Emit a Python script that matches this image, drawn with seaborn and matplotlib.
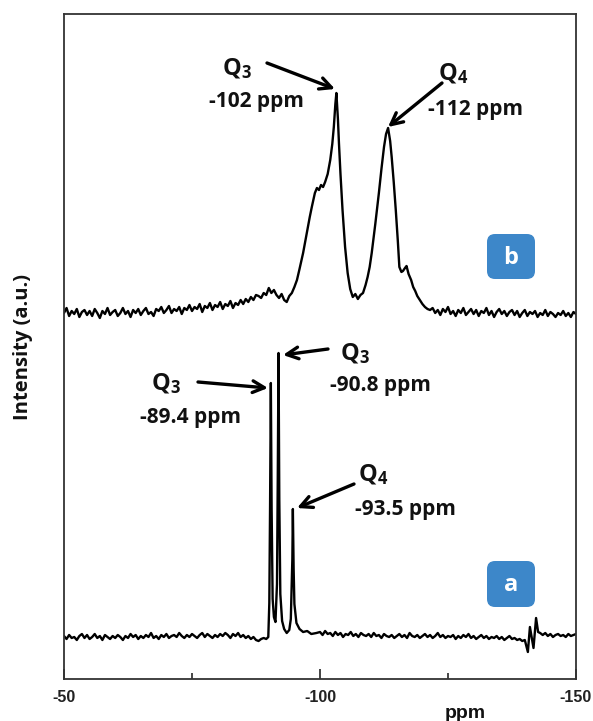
import matplotlib
matplotlib.use("Agg")
import matplotlib.pyplot as plt
import seaborn as sns
import numpy as np
import pandas as pd
from matplotlib.patches import FancyBboxPatch
from matplotlib.transforms import IdentityTransform

# ---------------- data ----------------
# trace b (upper spectrum): baseline left of the peaks, sampled every 0.5 ppm from -50
int_b_left = [366, 371, 363, 368, 365, 370, 362, 367, 369, 364,
              368, 363, 370, 366, 361, 368, 365, 371, 364, 367,
              369, 363, 366, 371, 365, 368, 362, 369, 366, 370,
              364, 368, 371, 365, 367, 363, 370, 368, 372, 366,
              369, 373, 366, 370, 368, 372, 365, 371, 369, 374,
              368, 372, 370, 375, 367, 373, 371, 376, 369, 374,
              372, 377, 370, 375, 373, 378, 371, 376, 374, 379,
              375, 380, 377, 382, 379, 384]
# peak region of trace b
ppm_b_mid = [-88, -88.5, -89, -89.5, -90, -90.5, -91, -91.5, -92, -92.5, -93, -93.5,
             -94, -94.5, -95, -95.5, -96, -96.7, -97.5, -98, -98.4, -99, -99.4, -99.8,
             -100.2, -100.6, -101, -101.5, -102, -102.4, -102.7, -103.0, -103.2, -103.5,
             -103.7, -104.0, -104.4, -104.9, -105.4, -105.9, -106.4, -106.9, -107.4,
             -107.9, -108.4, -108.9, -109.3, -109.7, -110.1, -110.8, -111.5, -112.0,
             -112.5, -112.9, -113.3, -113.7, -114.0, -114.4, -114.8, -115.2, -115.5,
             -115.9, -116.2, -116.6, -116.9, -117.3, -117.8, -118.2, -118.6, -119.0,
             -119.5, -120.0, -120.5, -121.0, -121.5]
int_b_mid = [383, 381, 386, 384, 391, 386, 389, 384, 381, 385, 379, 377,
             383, 386, 392, 399, 410, 426, 448, 462, 472, 486, 491, 489,
             494, 492, 497, 505, 519, 535, 552, 575, 586, 560,
             536, 505, 469, 432, 406, 390, 382, 385, 380,
             384, 386, 394, 402, 412, 426, 455, 486, 510,
             532, 545, 551, 538, 522, 497, 469, 438, 412,
             407, 408, 411, 413, 405, 399, 392, 388, 383,
             379, 375, 372, 370, 369]
# baseline right of the peaks, every 0.5 ppm from -122
int_b_right = [371, 366, 369, 364, 370, 367, 372, 365, 368, 363,
               369, 366, 371, 364, 367, 370, 365, 369, 363, 368,
               366, 371, 364, 368, 362, 367, 370, 365, 368, 363,
               367, 369, 364, 368, 362, 366, 369, 363, 367, 365,
               368, 362, 366, 364, 369, 363, 367, 365, 362, 366,
               364, 368, 363, 366, 362, 367, 365]

# trace a (lower spectrum): baseline left of the peaks, every 0.5 ppm from -50
int_a_left = [43, 40, 44, 41, 42, 39, 43, 45, 41, 44,
              40, 42, 45, 41, 43, 39, 44, 42, 40, 43,
              41, 44, 42, 39, 43, 41, 45, 42, 44, 40,
              43, 41, 44, 42, 46, 41, 43, 40, 44, 42,
              45, 41, 43, 44, 42, 46, 43, 41, 44, 42,
              45, 43, 41, 44, 46, 42, 45, 43, 41, 44,
              42, 45, 43, 46, 44, 41, 45, 43, 46, 42,
              44, 41, 43, 40, 42, 39, 38, 40, 41]
ppm_a_mid = [-89.5, -89.9, -90.1, -90.25, -90.4, -90.55, -90.75, -91.0, -91.3, -91.6,
             -91.75, -91.9, -92.05, -92.25, -92.6, -93.0, -93.5, -94.0, -94.3, -94.5,
             -94.6, -94.7, -94.85, -95.0, -95.4, -96.0, -96.7, -97.5, -98.3, -99.3]
int_a_mid = [40, 42, 76, 175, 296, 170, 80, 62, 57, 95,
             200, 326, 180, 85, 58, 50, 46, 49, 60, 102,
             120, 170, 110, 75, 56, 50, 47, 48, 45, 46]
# baseline -100 ... -139.5, every 0.5 ppm
int_a_right = [47, 44, 48, 45, 46, 43, 47, 44, 46, 42,
               45, 44, 47, 43, 45, 42, 46, 44, 43, 45,
               42, 46, 43, 44, 41, 45, 43, 42, 44, 41,
               43, 45, 42, 44, 41, 46, 43, 42, 44, 41,
               43, 45, 42, 44, 41, 43, 46, 42, 44, 41,
               43, 42, 44, 40, 43, 41, 44, 42, 45, 41,
               43, 40, 42, 44, 41, 43, 40, 42, 41, 43,
               40, 42, 39, 41, 43, 40, 41, 39, 40, 38]
# artefact near -141 ppm
ppm_a_art = [-140.0, -140.6, -141.0, -141.7, -142.2, -142.6, -143.0]
int_a_art = [39, 27, 52, 31, 61, 47, 46]
# baseline -143.5 ... -150, every 0.5 ppm
int_a_end = [44, 46, 43, 45, 42, 44, 45, 43, 44, 42, 45, 43, 44, 45]

x_ticks = [-50, -100, -150]
x_tick_labels = ["-50", "-100", "-150"]
x_minor_ticks = [-75, -125]

peak_labels_b = [("Q$_3$", "-102 ppm"), ("Q$_4$", "-112 ppm")]
peak_labels_a = [("Q$_3$", "-89.4 ppm"), ("Q$_3$", "-90.8 ppm"), ("Q$_4$", "-93.5 ppm")]
badges = ["b", "a"]


def grid(start, n):
    return [start - 0.5 * i for i in range(n)]


ppm_b = grid(-50, len(int_b_left)) + ppm_b_mid + grid(-122, len(int_b_right))
int_b = int_b_left + int_b_mid + int_b_right
ppm_a = (grid(-50, len(int_a_left)) + ppm_a_mid + grid(-100, len(int_a_right))
         + ppm_a_art + grid(-143.5, len(int_a_end)))
int_a = int_a_left + int_a_mid + int_a_right + int_a_art + int_a_end
assert len(ppm_b) == len(int_b) and len(ppm_a) == len(int_a)

df = pd.concat([
    pd.DataFrame({"ppm": ppm_b, "intensity": int_b, "trace": "b"}),
    pd.DataFrame({"ppm": ppm_a, "intensity": int_a, "trace": "a"}),
])

# ---------------- figure ----------------
sns.set_theme(style="white")
plt.rcParams["font.family"] = ["Open Sans", "DejaVu Sans"]
plt.rcParams["mathtext.fontset"] = "custom"
plt.rcParams["mathtext.rm"] = "Open Sans:bold"
plt.rcParams["mathtext.it"] = "Open Sans:bold"
plt.rcParams["mathtext.bf"] = "Open Sans:bold"

W, H = 593, 721
fig = plt.figure(figsize=(W / 100, H / 100), dpi=100)
ax = fig.add_axes([64 / W, (H - 679) / H, 512 / W, 665 / H])

for name in ["b", "a"]:
    sns.lineplot(data=df[df["trace"] == name], x="ppm", y="intensity", ax=ax,
                 color="black", linewidth=1.7, estimator=None, sort=False, legend=False)

ax.set_xlim(-50, -150)
ax.set_ylim(0, 665)
ax.set_yticks([])
ax.set_xticks(x_ticks)
ax.set_xticklabels(x_tick_labels, fontfamily="Liberation Sans", fontweight="bold",
                   fontsize=11.5)
ax.set_xticks(x_minor_ticks, minor=True)
ax.tick_params(axis="x", which="major", direction="in", length=7, width=1.2, pad=8,
               colors="#222222", bottom=True)
ax.tick_params(axis="x", which="minor", direction="in", length=4, width=1.2, bottom=True)
ax.set_xlabel("")
ax.set_ylabel("")
for s in ax.spines.values():
    s.set_color("#333333")
    s.set_linewidth(1.3)


def px2data(px, py):
    return (-50 - (px - 64) / 5.12, 679 - py)


def label(q, txt, qpos, tpos, tail, tip):
    ax.text(*px2data(*qpos), q, ha="center", va="center", fontsize=17, fontweight="bold",
            color="#111111")
    ax.text(*px2data(*tpos), txt, ha="center", va="center", fontsize=15,
            fontweight="bold", color="#111111")
    ax.annotate("", xy=px2data(*tip), xytext=px2data(*tail),
                arrowprops=dict(arrowstyle="->", lw=2.4, color="black",
                                mutation_scale=21, shrinkA=0, shrinkB=0))


# upper spectrum labels
label(*peak_labels_b[0], (237, 69), (256, 101), (267, 63), (335, 89))
label(*peak_labels_b[1], (453, 74), (476, 110), (442, 83), (388, 127))
# lower spectrum labels
label(*peak_labels_a[0], (166, 384), (191, 418), (198, 382), (268, 388))
label(*peak_labels_a[1], (355, 354), (380, 386), (328, 349), (283, 355))
label(*peak_labels_a[2], (373, 475), (405, 510), (354, 484), (297, 508))

# badges
for letter, (x0, y0, x1, y1) in zip(badges, [(487, 234, 535, 279), (487, 561, 535, 607)]):
    box = FancyBboxPatch((x0, H - y1), x1 - x0, y1 - y0,
                         boxstyle="round,pad=0,rounding_size=8",
                         transform=IdentityTransform(), fc="#3D87C9", ec="none",
                         clip_on=False)
    fig.patches.append(box)
    fig.text((x0 + x1) / 2 / W, 1 - ((y0 + y1) / 2 + 1) / H, letter, ha="center",
             va="center", color="white", fontsize=17, fontweight="bold")

fig.text(23 / W, 1 - 347 / H, "Intensity (a.u.)", rotation=90, ha="center",
         va="center", fontsize=14.5, fontweight="bold", color="#111111")
fig.text(465 / W, 1 - 713 / H, "ppm", ha="center", va="center", fontsize=14,
         fontfamily="Liberation Sans", fontweight="bold", color="#111111")

fig.savefig("out.png", dpi=100)
